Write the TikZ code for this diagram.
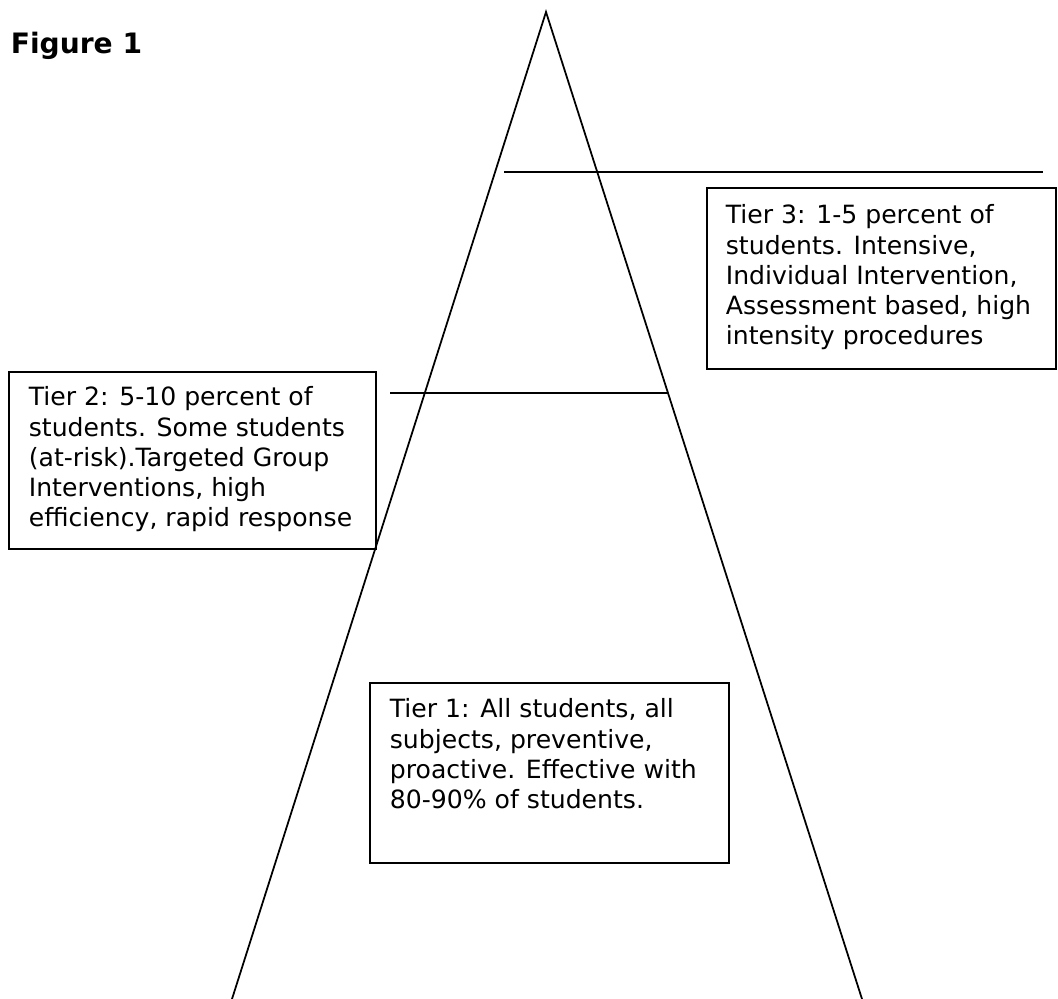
\documentclass[tikz,border=0pt]{standalone}
\usepackage{fontspec}
\setmainfont{DejaVu Sans}
\usetikzlibrary{positioning,calc}

\begin{document}
\begin{tikzpicture}[x=0.02cm,y=-0.02cm,line width=1pt,
        tier box/.style={draw, rectangle, line width=1.2pt, anchor=north west, inner sep=0pt, outer sep=0pt},
        tier text/.style={align=left, anchor=north west, inner sep=0pt, font=\fontsize{14.3}{17.1}\selectfont}]

\useasboundingbox (0,0) rectangle (1058,999);

\node[anchor=south west, inner sep=0pt, font=\bfseries\fontsize{16}{19}\selectfont] (fig) at (10,60) {Figure 1};

% pyramid
\coordinate (top) at (546,12);
\coordinate (bl) at (232,999);
\coordinate (br) at (862,999);
\draw (bl) -- (top) -- (br);

\coordinate (c3a) at (504,172);
\coordinate (c3b) at (1043,172);
\coordinate (c2a) at (390,393);
\coordinate (c2b) at (668,393);
\draw (c3a) -- (c3b);
\draw (c2a) -- (c2b);

% boxes
\node[tier box, minimum width=349*0.02cm, minimum height=181*0.02cm] (b3) at (707,188) {};
\node[tier box, minimum width=367*0.02cm, minimum height=177*0.02cm] (b2) at (9,372) {};
\node[tier box, minimum width=359*0.02cm, minimum height=180*0.02cm] (b1) at (370,683) {};

\node[tier text] (t3) at (725,204) {Tier 3: 1-5 percent of\\students. Intensive,\\Individual Intervention,\\Assessment based, high\\intensity procedures};
\node[tier text] (t2) at (28,386) {Tier 2: 5-10 percent of\\students. Some students\\(at-risk).Targeted Group\\Interventions, high\\efficiency, rapid response};
\node[tier text] (t1) at (389,698) {Tier 1: All students, all\\subjects, preventive,\\proactive. Effective with\\80-90\% of students.};

\end{tikzpicture}
\end{document}
